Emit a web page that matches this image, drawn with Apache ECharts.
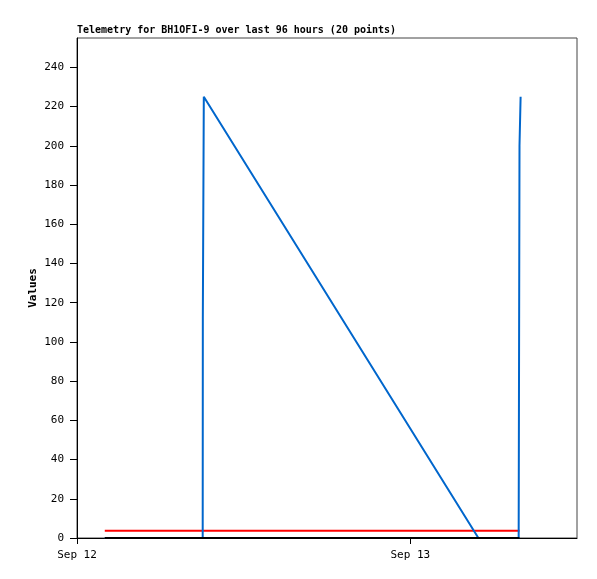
<!DOCTYPE html>
<html>
<head>
<meta charset="utf-8">
<script src="https://cdn.jsdelivr.net/npm/echarts@6/dist/echarts.min.js"></script>
<style>html,body{margin:0;padding:0;background:#fff;}#c{width:597px;height:579px;}</style>
</head>
<body>
<div id="c"></div>
<script>
var titleText = 'Telemetry for BH1OFI-9 over last 96 hours (20 points)';
var yName = 'Values';
var dayStart = Date.UTC(2024, 8, 12);
var H = 3600000;
// hours after Sep 12 00:00
var blueHours = [2.0, 3.2, 4.4, 5.6, 6.8, 8.0, 9.05, 9.06, 9.12, 9.13, 28.9, 29.6, 30.2, 30.8, 31.3, 31.6, 31.8, 31.86, 31.93, 31.94];
var blueValues = [0, 0, 0, 0, 0, 0, 0, 112, 112, 225, 0, 0, 0, 0, 0, 0, 0, 200, 200, 225];
var redHours = [2.0, 31.86];
var redValues = [3.7, 3.7];
var blackHours = [2.0, 31.86];
var blackValues = [0, 0];
var xMinHours = 0, xMaxHours = 36;

function pairs(hs, vs) { return hs.map(function (h, i) { return [dayStart + h * H, vs[i]]; }); }
var MON = ['Jan','Feb','Mar','Apr','May','Jun','Jul','Aug','Sep','Oct','Nov','Dec'];
var font = 'DejaVu Sans Mono';
var chart = echarts.init(document.getElementById('c'));
chart.setOption({
  animation: false,
  title: { text: titleText, left: 77, top: 25, padding: 0,
    textStyle: { fontFamily: font, fontSize: 10, fontWeight: 'bold', color: '#000' } },
  grid: { left: 77, right: 20, top: 38, bottom: 41, show: true, borderColor: '#444', borderWidth: 1, backgroundColor: 'transparent', containLabel: false },
  xAxis: {
    type: 'value', min: dayStart + xMinHours * H, max: dayStart + xMaxHours * H, interval: 24 * H,
    axisLine: { show: true, onZero: false, lineStyle: { color: '#000', width: 1 } },
    axisTick: { show: true, inside: false, length: 6, lineStyle: { color: '#000' } },
    splitLine: { show: false },
    axisLabel: { fontFamily: font, fontSize: 11, color: '#000', margin: 12, showMaxLabel: false,
      formatter: function (v) { var d = new Date(v); return MON[d.getUTCMonth()] + ' ' + d.getUTCDate(); } }
  },
  yAxis: {
    type: 'value', min: 0, max: 255, interval: 20,
    name: yName, nameLocation: 'middle', nameGap: 38, nameRotate: 90, nameMoveOverlap: false,
    nameTextStyle: { fontFamily: font, fontSize: 11, fontWeight: 'bold', color: '#000' },
    axisLine: { show: true, lineStyle: { color: '#000', width: 1 } },
    axisTick: { show: true, length: 7, lineStyle: { color: '#000' } },
    splitLine: { show: false },
    axisLabel: { fontFamily: font, fontSize: 11, color: '#000', margin: 13, showMaxLabel: false }
  },
  series: [
    { type: 'line', data: pairs(redHours, redValues), showSymbol: false, lineStyle: { color: '#ff0000', width: 2 }, z: 2 },
    { type: 'line', data: pairs(blueHours, blueValues), showSymbol: false, lineStyle: { color: '#0066cc', width: 2 }, z: 3 },
    { type: 'line', data: pairs(blackHours, blackValues), showSymbol: false, lineStyle: { color: '#000', width: 2 }, z: 4 }
  ]
});
</script>
</body>
</html>
